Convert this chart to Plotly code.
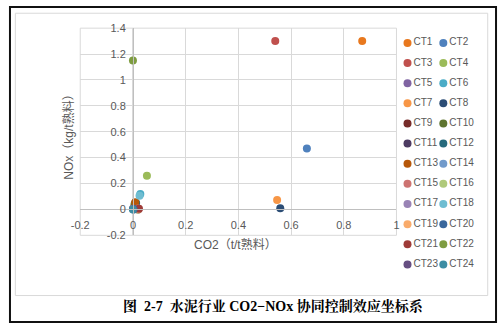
import plotly.graph_objects as go

# Series names, values and colours
names = ["CT1", "CT2", "CT3", "CT4", "CT5", "CT6", "CT7", "CT8",
         "CT9", "CT10", "CT11", "CT12", "CT13", "CT14", "CT15", "CT16",
         "CT17", "CT18", "CT19", "CT20", "CT21", "CT22", "CT23", "CT24"]
co2 = [0.87, 0.66, 0.54, 0.053, 0.008, 0.028, 0.547, 0.559,
       0.020, 0.006, 0.000, 0.012, 0.009, 0.003, 0.020, 0.018,
       0.002, 0.025, 0.020, 0.005, 0.023, 0.000, 0.003, 0.000]
nox = [1.30, 0.47, 1.30, 0.26, 0.050, 0.120, 0.072, 0.010,
       0.000, 0.040, 0.005, 0.050, 0.055, 0.000, 0.008, 0.000,
       0.005, 0.105, 0.003, 0.003, 0.005, 1.15, 0.002, 0.000]
colors = ["#E8781E", "#4F81BD", "#C0504D", "#9BBB59", "#8064A2", "#4BACC6",
          "#F79646", "#2C4D75", "#772C2A", "#5F7530", "#4D3B62", "#276A7C",
          "#B65708", "#729ACA", "#CD7371", "#AFC97A", "#9983B5", "#6FBDD1",
          "#F9AB6B", "#3A679C", "#9E3B38", "#7E9C40", "#664F82", "#3C8DA3"]

x_ticks = [-0.2, 0, 0.2, 0.4, 0.6, 0.8, 1]
x_labels = ["-0.2", "0", "0.2", "0.4", "0.6", "0.8", "1"]
y_ticks = [-0.2, 0, 0.2, 0.4, 0.6, 0.8, 1, 1.2, 1.4]
y_labels = ["-0.2", "0", "0.2", "0.4", "0.6", "0.8", "1", "1.2", "1.4"]

x_title = "CO2（t/t熟料）"
y_title = "NOx（kg/t熟料）"
caption = "图  2-7  水泥行业 CO2−NOx 协同控制效应坐标系"

W, H = 500, 329
X_RANGE = [-0.2, 1.0]
Y_RANGE = [-0.2, 1.4]

def px(x):
    return x / W

def py(y):
    return (H - y) / H

# plot area in pixels
xdom = [px(73), px(397)]
ydom = [py(238), py(23)]

# axes cross at zero
x_axis_pos = ydom[0] + (0 - Y_RANGE[0]) / (Y_RANGE[1] - Y_RANGE[0]) * (ydom[1] - ydom[0])
y_axis_pos = xdom[0] + (0 - X_RANGE[0]) / (X_RANGE[1] - X_RANGE[0]) * (xdom[1] - xdom[0])

TXT = "#595959"
FONT = "Liberation Sans, Noto Sans CJK SC, sans-serif"

fig = go.Figure()

for n, xv, yv, c in zip(names, co2, nox, colors):
    fig.add_trace(go.Scatter(
        x=[xv], y=[yv], name=n, mode="markers",
        marker=dict(size=8, color=c),
        showlegend=False, xaxis="x", yaxis="y",
    ))

# two-column key on its own hidden axes
fig.add_trace(go.Scatter(
    x=[i % 2 for i in range(len(names))],
    y=[i // 2 for i in range(len(names))],
    mode="markers+text",
    text=names,
    textposition="middle right",
    textfont=dict(size=10, color=TXT, family=FONT),
    marker=dict(size=8, color=colors),
    showlegend=False, hoverinfo="skip",
    xaxis="x2", yaxis="y2",
))

key_col0, key_col1 = 408.3, 445.0
key_row0, key_row_step = 38.3, 20.9
kx_dom = [400, 490]
ky_dom = [28, 280]
kx_scale = key_col1 - key_col0
kx_range = [(kx_dom[0] - key_col0) / kx_scale, (kx_dom[1] - key_col0) / kx_scale]
ky_range = [(ky_dom[1] - key_row0) / key_row_step, (ky_dom[0] - key_row0) / key_row_step]

axis_common = dict(
    showgrid=True, gridcolor="#D9D9D9", gridwidth=1,
    zeroline=False, showline=True, linecolor="#BFBFBF", linewidth=1,
    ticks="outside", ticklen=5, tickcolor="rgba(0,0,0,0)",
    tickfont=dict(size=11, color=TXT, family=FONT),
    tickmode="array",
)

fig.update_layout(
    width=W, height=H,
    margin=dict(l=0, r=0, t=0, b=0),
    paper_bgcolor="white", plot_bgcolor="white",
    showlegend=False,
    xaxis=dict(domain=xdom, range=X_RANGE, tickvals=x_ticks, ticktext=x_labels,
               anchor="free", position=x_axis_pos, **axis_common),
    yaxis=dict(domain=ydom, range=Y_RANGE, tickvals=y_ticks, ticktext=y_labels,
               anchor="free", position=y_axis_pos, **axis_common),
    xaxis2=dict(domain=[px(kx_dom[0]), px(kx_dom[1])], range=kx_range, visible=False,
                anchor="y2"),
    yaxis2=dict(domain=[py(ky_dom[1]), py(ky_dom[0])], range=ky_range, visible=False,
                anchor="x2"),
    shapes=[
        # plot area border
        dict(type="rect", xref="paper", yref="paper", x0=xdom[0], x1=xdom[1],
             y0=ydom[0], y1=ydom[1], line=dict(color="#D9D9D9", width=1), layer="below"),
        # chart frame
        dict(type="rect", xref="paper", yref="paper", x0=px(6.5), x1=px(490.5),
             y0=py(300.5), y1=py(7.5), line=dict(color="#D9D9D9", width=1), layer="below"),
        # outer border
        dict(type="rect", xref="paper", yref="paper", x0=px(1), x1=px(499),
             y0=py(328), y1=py(1), line=dict(color="#111111", width=2), layer="above"),
    ],
    annotations=[
        dict(text=x_title, xref="paper", yref="paper", x=px(232), y=py(248),
             showarrow=False, xanchor="center", yanchor="middle",
             font=dict(size=12, color=TXT, family=FONT)),
        dict(text=y_title, xref="paper", yref="paper", x=px(61), y=py(133),
             showarrow=False, xanchor="center", yanchor="middle", textangle=-90,
             font=dict(size=12, color=TXT, family=FONT)),
        dict(text="<b>" + caption + "</b>", xref="paper", yref="paper", x=px(271), y=py(311.5),
             showarrow=False, xanchor="center", yanchor="middle",
             font=dict(size=14, color="#000000",
                       family="Liberation Serif, Noto Serif CJK SC, Noto Sans CJK SC, serif")),
    ],
)

fig.write_html("out.html")
